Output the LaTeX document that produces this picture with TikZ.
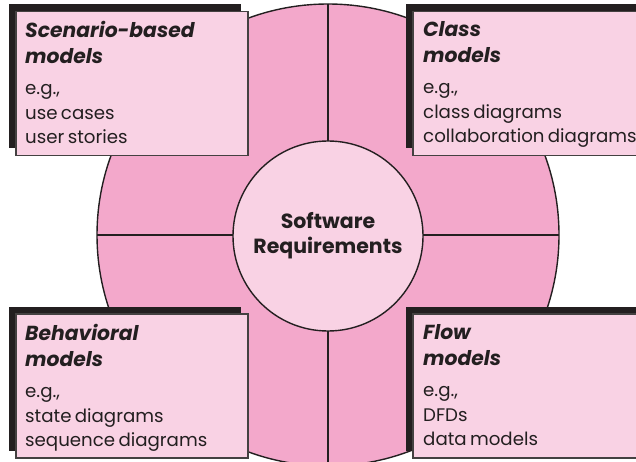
\documentclass[tikz,border=0pt]{standalone}
\usepackage{fontspec}
\setmainfont{Poppins}
\usetikzlibrary{shadows}
\definecolor{ring}{RGB}{243,168,203}
\definecolor{light}{RGB}{249,210,228}
\definecolor{ink}{RGB}{35,31,32}
\newcommand\hdf{\bfseries\itshape\fontsize{20.3}{26}\selectfont}
\newcommand\bdf{\normalfont\fontsize{18.2}{24.5}\selectfont}
\begin{document}
\begin{tikzpicture}[x=1pt,y=-1pt,
  box/.style={draw=ink!85, line width=1.2pt, fill=light, minimum width=232pt,
    minimum height=144pt, inner sep=0pt,
    drop shadow={shadow xshift=-7pt, shadow yshift=7pt, fill=ink, opacity=1}},
  lbl/.style={anchor=north west, align=left, inner sep=0pt, text=ink, text width=240pt},
  hub/.style={circle, draw=ink, line width=1.4pt, fill=light, minimum size=190pt, inner sep=0pt,
    align=center, text=ink, font=\bfseries\fontsize{20.5}{25}\selectfont}
]
\useasboundingbox (0,0) rectangle (636,462);
\clip (0,0) rectangle (636,462);
% outer ring
\node[circle, draw=ink, line width=1.4pt, fill=ring, minimum size=462pt, inner sep=0pt] (ring) at (328,235) {};
\coordinate (top) at (328,4);
\coordinate (bot) at (328,466);
\coordinate (lft) at (97,235);
\coordinate (rgt) at (559,235);
\draw[ink, line width=1.2pt] (top) -- (bot);
\draw[ink, line width=1.2pt] (lft) -- (rgt);
\node[hub] (hub) at (328,236) {Software\\Requirements};
% boxes
\node[box] (b1) at (132,83.5) {};
\node[box] (b2) at (529,83.5) {};
\node[box] (b3) at (132,386) {};
\node[box] (b4) at (529,386) {};
\node[lbl] (t1) at (25,21) {\hdf Scenario-based\\ models\par\vspace{7pt}\bdf e.g.,\\ use cases\\ user stories\par};
\node[lbl] (t2) at (423,21) {\hdf Class\\ models\par\vspace{7pt}\bdf e.g.,\\ class diagrams\\ collaboration diagrams\par};
\node[lbl] (t3) at (25,324) {\hdf Behavioral\\ models\par\vspace{7pt}\bdf e.g.,\\ state diagrams\\ sequence diagrams\par};
\node[lbl] (t4) at (423,324) {\hdf Flow\\ models\par\vspace{7pt}\bdf e.g.,\\ DFDs\\ data models\par};
\end{tikzpicture}
\end{document}
